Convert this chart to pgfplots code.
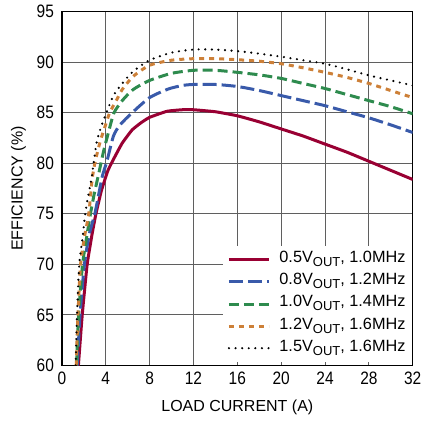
\documentclass[border=0pt]{standalone}
\usepackage{pgfplots}
\pgfplotsset{compat=1.18}
\usepackage{fontspec}
\setmainfont{Liberation Sans}
\newfontfamily\condfont{Liberation Sans}[FakeStretch=0.86]

\definecolor{cRed}{RGB}{153,0,51}
\definecolor{cBlue}{RGB}{57,90,170}
\definecolor{cGreen}{RGB}{46,139,78}
\definecolor{cOrange}{RGB}{205,128,56}
\definecolor{cGrid}{RGB}{95,95,95}

\newcommand{\vout}{V\raisebox{-4bp}{\fontsize{13bp}{13bp}\selectfont OUT}}

\begin{document}
\begin{tikzpicture}
\begin{axis}[
    name=ax,
    scale only axis,
    width=351bp, height=354bp,
    xmin=0, xmax=32, ymin=60, ymax=95,
    xtick={0,4,...,32},
    ytick={60,65,...,95},
    major tick length=0pt,
    grid=major,
    grid style={cGrid, line width=1bp},
    axis line style={black, line width=1.5bp},
    /pgf/number format/assume math mode=true,
    tick label style={font=\condfont\fontsize{18bp}{20bp}\selectfont},
    yticklabel style={xshift=-4.5bp},
    xticklabel style={yshift=-3bp},
    xlabel={LOAD CURRENT (A)},
    ylabel={EFFICIENCY (\%)},
    label style={font=\fontsize{16bp}{19bp}\selectfont},
    xlabel style={at={(axis description cs:0.5,0)}, anchor=north, yshift=-31bp},
    ylabel style={at={(axis description cs:-0.124,0.5)}, anchor=center},
    legend cell align=left,
    legend image code/.code={\draw[#1] (0bp,0bp) -- (40bp,0bp); \path (47bp,0bp);},
    legend style={at={(1,0)}, anchor=south east, xshift=-1bp, yshift=3bp,
        fill=white, draw=none, inner xsep=4bp, inner ysep=3bp, row sep=0bp,
        font=\fontsize{16.3bp}{19bp}\selectfont,
        nodes={inner ysep=2bp, text height=12bp, text depth=6.1bp}},
    every axis plot/.append style={smooth, tension=0.4},
]
\addplot[cRed, line width=3bp, tension=0.25] coordinates {
 (1.5,60) (1.85,65) (2.3,70) (2.75,73) (3.1,75) (3.6,77.3) (4.2,79.3) (4.8,80.6)
 (5.5,82.0) (6.4,83.3) (7.2,84.0) (8,84.55) (9.6,85.15) (11,85.3) (12,85.3)
 (14,85.1) (16,84.7) (18,84.1) (20,83.4) (22,82.7) (24,81.9) (26,81.1)
 (28,80.2) (30,79.3) (32,78.4)
};
\addlegendentry{0.5\vout, 1.0MHz}
\addplot[cBlue, line width=3bp, dash pattern=on 14bp off 5bp] coordinates {
 (1.4,60) (1.65,65) (2.05,70) (2.5,73) (3.0,75) (3.4,77.2) (3.7,78.8) (4.1,80.2)
 (4.7,82.7) (5.3,83.8) (6.4,85.0) (8,86.5) (9.7,87.35) (11,87.7) (12,87.8) (14,87.8)
 (16,87.6) (18,87.2) (20,86.7) (22,86.2) (24,85.7) (26,85.1) (28,84.5)
 (30,83.8) (32,83.05)
};
\addlegendentry{0.8\vout, 1.2MHz}
\addplot[cGreen, line width=3bp, dash pattern=on 10bp off 5bp] coordinates {
 (1.33,60) (1.52,65) (1.88,70) (2.3,73) (2.6,75) (2.95,77) (3.34,78.9) (3.8,81.2)
 (4.3,83.3) (4.75,85) (5.5,86.2) (6.5,87.3) (8,88.2) (10,88.9) (12,89.2) (14,89.2)
 (16,89.0) (18,88.75) (20,88.4) (22,87.9) (24,87.4) (26,86.8) (28,86.2)
 (30,85.6) (32,84.9)
};
\addlegendentry{1.0\vout, 1.4MHz}
\addplot[cOrange, line width=3bp, dash pattern=on 5bp off 5bp] coordinates {
 (1.3,60) (1.46,65) (1.7,70) (2.1,73) (2.45,75) (2.75,78.4) (3.04,80.2) (3.5,82.2)
 (3.95,83.7) (4.35,85) (5.0,86.3) (5.5,87.3) (6.5,88.6) (8,89.7) (10,90.2) (12,90.35) (14,90.35)
 (16,90.25) (18,90.1) (20,89.85) (22,89.45) (24,89.0) (26,88.5) (28,87.9)
 (30,87.2) (32,86.5)
};
\addlegendentry{1.2\vout, 1.6MHz}
\addplot[black, line width=2.4bp, line cap=round, dash pattern=on 0bp off 6.6bp] coordinates {
 (1.25,60) (1.37,65) (1.58,70) (1.9,72.8) (2.12,75) (2.4,76.8) (2.73,78.7) (2.88,80)
 (3.19,82.2) (3.6,83.7) (4.05,85) (4.7,86.7) (5.5,87.9) (6.5,89.1) (8,90.2) (10,90.95)
 (12,91.25) (14,91.25) (16,91.1) (18,90.85) (20,90.55) (22,90.2) (24,89.85)
 (26,89.3) (28,88.7) (30,88.2) (32,87.7)
};
\addlegendentry{1.5\vout, 1.6MHz}
\end{axis}
\pgfresetboundingbox
\path[use as bounding box] ([shift={(-62bp,-55bp)}]ax.south west) rectangle ([shift={(8.3bp,11.7bp)}]ax.north east);
\end{tikzpicture}
\end{document}
